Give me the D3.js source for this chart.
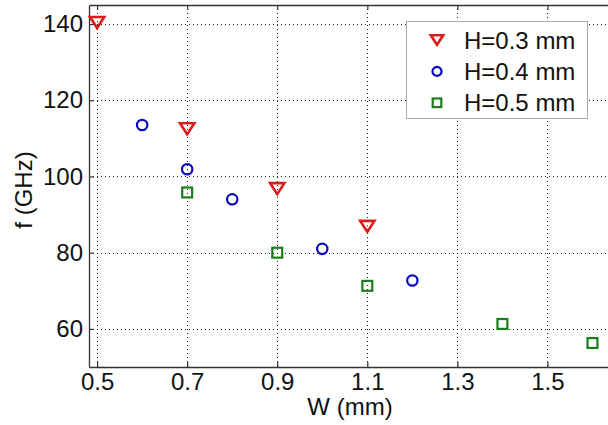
<!DOCTYPE html>
<html>
<head>
<meta charset="utf-8">
<script src="https://cdn.jsdelivr.net/npm/d3@7"></script>
<style>
  html, body { margin: 0; padding: 0; background: #fff; }
  svg { display: block; font-family: "Liberation Sans", Arial, sans-serif; }
</style>
</head>
<body>
<svg id="chart" width="608" height="425"></svg>
<script>
// Resonant frequency f versus strip width W for three substrate heights H
const seriesNames = ["H=0.3 mm", "H=0.4 mm", "H=0.5 mm"];
const w03 = [0.5, 0.7, 0.9, 1.1];
const f03 = [140.4, 112.5, 96.8, 86.9];
const w04 = [0.6, 0.7, 0.8, 1.0, 1.2];
const f04 = [113.5, 101.9, 94.0, 81.0, 72.7];
const w05 = [0.7, 0.9, 1.1, 1.4, 1.6];
const f05 = [95.8, 80.0, 71.3, 61.3, 56.3];
const xTicks = [0.5, 0.7, 0.9, 1.1, 1.3, 1.5];
const yTicks = [60, 80, 100, 120, 140];
const xLabel = "W (mm)";
const yLabel = "f (GHz)";

const series = [
  { name: seriesNames[0], xs: w03, ys: f03, shape: "tri", color: "#dc1c1c" },
  { name: seriesNames[1], xs: w04, ys: f04, shape: "circ", color: "#0a0ac0" },
  { name: seriesNames[2], xs: w05, ys: f05, shape: "sq", color: "#1a7f1a" }
];

const FS = 24;
const svg = d3.select("#chart");
const plotL = 89, plotR = 615, plotT = 5, plotB = 367;

const x = d3.scaleLinear().domain([0.482, 1.65]).range([plotL, plotR]);
const y = d3.scaleLinear().domain([50, 145]).range([plotB, plotT]);

// dotted grid
const grid = svg.append("g").attr("stroke", "#222").attr("stroke-width", 1)
  .attr("stroke-dasharray", "1,3");
grid.selectAll("line.vx").data(xTicks).join("line")
  .attr("x1", d => Math.round(x(d)) + 0.5).attr("x2", d => Math.round(x(d)) + 0.5)
  .attr("y1", plotT).attr("y2", plotB);
grid.selectAll("line.hy").data(yTicks).join("line")
  .attr("y1", d => Math.round(y(d)) + 0.5).attr("y2", d => Math.round(y(d)) + 0.5)
  .attr("x1", plotL).attr("x2", plotR);

// axes with inward ticks
function styleAxis(g) {
  g.selectAll(".domain").attr("stroke", "#333").attr("stroke-width", 1.3);
  g.selectAll(".tick line").attr("stroke", "#333").attr("stroke-width", 1.2);
  g.selectAll(".tick text").attr("fill", "#111").attr("font-size", FS)
    .attr("font-family", "'Liberation Sans', Arial, sans-serif");
}
svg.append("g").attr("transform", `translate(0,${plotB})`)
  .call(d3.axisBottom(x).tickValues(xTicks).tickFormat(d3.format(".1f"))
    .tickSizeInner(-5).tickSizeOuter(0).tickPadding(6))
  .call(styleAxis);
svg.append("g").attr("transform", `translate(0,${plotT})`)
  .call(d3.axisTop(x).tickValues(xTicks).tickFormat("")
    .tickSizeInner(-5).tickSizeOuter(0))
  .call(styleAxis);
svg.append("g").attr("transform", `translate(${plotL},0)`)
  .call(d3.axisLeft(y).tickValues(yTicks).tickFormat(d3.format("d"))
    .tickSizeInner(-5).tickSizeOuter(0).tickPadding(6))
  .call(styleAxis);
svg.append("g").attr("transform", `translate(${plotR},0)`)
  .call(d3.axisRight(y).tickValues(yTicks).tickFormat("")
    .tickSizeInner(-5).tickSizeOuter(0))
  .call(styleAxis);

// axis titles
svg.append("text").attr("x", 350).attr("y", 415)
  .attr("text-anchor", "middle").attr("font-size", FS).attr("fill", "#111")
  .text(xLabel);
svg.append("text")
  .attr("transform", `translate(32,190) rotate(-90)`)
  .attr("text-anchor", "middle").attr("font-size", FS).attr("fill", "#111")
  .text(yLabel);

// marker drawing
function marker(g, shape, color, s) {
  if (shape === "tri") {
    const hw = s * 0.62, hh = s * 0.48;
    g.append("path").attr("d", `M${-hw},${-hh}L${hw},${-hh}L0,${hh}Z`)
      .attr("fill", "none").attr("stroke", color).attr("stroke-width", 2.6)
      .attr("stroke-linejoin", "miter");
  } else if (shape === "circ") {
    g.append("circle").attr("r", s * 0.45)
      .attr("fill", "none").attr("stroke", color).attr("stroke-width", 2.2);
  } else {
    const h = s * 0.43;
    g.append("rect").attr("x", -h).attr("y", -h).attr("width", 2 * h).attr("height", 2 * h)
      .attr("fill", "none").attr("stroke", color).attr("stroke-width", 2.2);
  }
}

series.forEach(sr => {
  const pts = sr.xs.map((v, i) => [v, sr.ys[i]]);
  svg.append("g").selectAll("g").data(pts).join("g")
    .attr("transform", d => `translate(${x(d[0])},${y(d[1])})`)
    .each(function () { marker(d3.select(this), sr.shape, sr.color, 11.5); });
});

// legend
const lg = svg.append("g");
lg.append("rect").attr("x", 406.5).attr("y", 21.5).attr("width", 181).attr("height", 97)
  .attr("fill", "#fff").attr("stroke", "#aaa").attr("stroke-width", 1);
series.forEach((sr, i) => {
  const cy = 40 + i * 31.4;
  const m = lg.append("g").attr("transform", `translate(437,${cy})`);
  marker(m, sr.shape, sr.color, 10);
  lg.append("text").attr("x", 464).attr("y", cy + 8.6)
    .attr("font-size", FS).attr("fill", "#111").text(sr.name);
});
</script>
</body>
</html>
